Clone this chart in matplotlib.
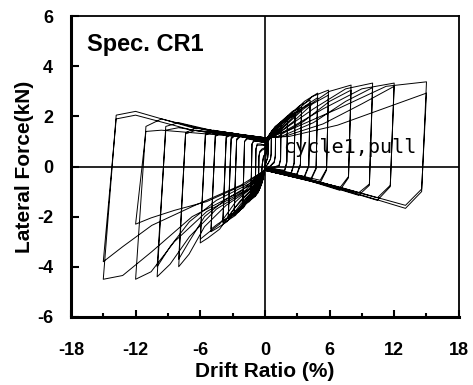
import numpy as np
import matplotlib
matplotlib.use("Agg")
import matplotlib.pyplot as plt
from matplotlib.ticker import MultipleLocator

# drift amplitude of each cycle (two cycles per level), %
drift_pos = [0.3, 0.3, 0.6, 0.6, 1.0, 1.0, 1.5, 1.5, 2.1, 2.1, 2.8, 2.8, 3.4, 3.4,
             4.2, 4.2, 4.9, 4.9, 5.9, 5.9, 8.0, 8.0, 10.0, 10.0, 12.0, 12.0, 15.0, 15.0]
drift_neg = [0.3, 0.3, 0.6, 0.6, 0.9, 0.9, 1.3, 1.3, 2.05, 2.05, 2.85, 2.85, 3.4, 3.4,
             3.9, 3.9, 5.0, 5.0, 6.0, 6.0, 8.0, 8.0, 10.0, 10.0, 12.0, 12.0, 15.0, 15.0]

# pull side: loading at 0.15, 0.45, 0.75 of amplitude, then peak
load_1 = [0.2, 0.45, 0.8, 0.75, 1.0, 0.95, 1.15, 1.1, 1.2, 1.15, 1.25, 1.2, 1.25, 1.2,
          1.3, 1.2, 1.3, 1.2, 1.3, 1.2, 1.35, 1.2, 1.4, 1.2, 1.4, 1.2, 1.45, 1.2]
load_2 = [0.5, 0.6, 1.0, 0.95, 1.3, 1.25, 1.45, 1.4, 1.6, 1.55, 1.7, 1.6, 1.8, 1.7,
          1.9, 1.75, 2.0, 1.8, 2.1, 1.8, 2.3, 1.8, 2.3, 1.75, 2.3, 1.7, 2.3, 1.65]
load_3 = [0.8, 0.8, 1.15, 1.12, 1.45, 1.4, 1.62, 1.58, 1.8, 1.75, 2.0, 1.9, 2.2, 2.1,
          2.4, 2.25, 2.6, 2.4, 2.8, 2.5, 3.0, 2.6, 3.1, 2.6, 3.1, 2.5, 3.2, 2.35]
peak_pos = [0.95, 0.9, 1.25, 1.2, 1.52, 1.48, 1.72, 1.68, 1.93, 1.85, 2.13, 2.05, 2.37, 2.25,
            2.65, 2.5, 2.93, 2.75, 3.05, 2.85, 3.25, 3.05, 3.33, 3.15, 3.33, 3.2, 3.38, 2.93]
# unloading from pull peak: drop, hook, return, zero crossing
drop_pos = [0.5, 0.5, 0.5, 0.5, 0.4, 0.45, 0.25, 0.3, 0.15, 0.2, 0.1, 0.15, 0.05, 0.1,
            0.0, 0.05, -0.1, -0.05, -0.15, -0.1, -0.45, -0.4, -0.75, -0.7, -0.8, -0.75, -1.0, -0.9]
hook_pos = [0.35, 0.35, 0.3, 0.3, 0.15, 0.2, 0.0, 0.05, -0.2, -0.15, -0.3, -0.25, -0.35, -0.3,
            -0.45, -0.4, -0.55, -0.5, -0.65, -0.55, -0.95, -0.85, -1.15, -1.05, -1.35, -1.25, -1.67, -1.55]
ret_pos = [0.2, 0.2, 0.1, 0.1, 0.0, 0.0, -0.05, -0.05, -0.1, -0.1, -0.15, -0.15, -0.2, -0.2,
           -0.25, -0.25, -0.3, -0.3, -0.35, -0.3, -0.5, -0.45, -0.6, -0.55, -0.7, -0.65, -0.85, -0.8]
cross_low = [0.0, 0.0, -0.05, -0.05, -0.1, -0.1, -0.1, -0.1, -0.1, -0.1, -0.1, -0.1, -0.1, -0.1,
             -0.1, -0.1, -0.1, -0.1, -0.12, -0.12, -0.12, -0.12, -0.15, -0.15, -0.15, -0.15, -0.15, -0.15]

# push side: loading at 0.15, 0.45, 0.7, 0.88 of amplitude, then peak
neg_1 = [-0.1, -0.15, -0.3, -0.3, -0.45, -0.4, -0.55, -0.5, -0.65, -0.6, -0.7, -0.65, -0.75, -0.7,
         -0.75, -0.7, -0.8, -0.7, -0.8, -0.7, -0.85, -0.7, -0.9, -0.7, -0.95, -0.7, -1.0, -0.75]
neg_2 = [-0.3, -0.35, -0.6, -0.55, -0.8, -0.75, -0.95, -0.9, -1.1, -1.05, -1.2, -1.15, -1.3, -1.25,
         -1.4, -1.3, -1.5, -1.35, -1.6, -1.4, -1.55, -1.3, -1.7, -1.35, -1.8, -1.4, -2.0, -1.6]
neg_3 = [-0.5, -0.5, -0.85, -0.8, -1.05, -1.0, -1.2, -1.15, -1.4, -1.35, -1.65, -1.6, -1.8, -1.7,
         -1.95, -1.85, -2.2, -2.05, -2.5, -2.3, -2.4, -2.0, -2.8, -2.2, -3.0, -1.75, -3.4, -2.35]
neg_4 = [-0.62, -0.58, -0.93, -0.88, -1.13, -1.08, -1.28, -1.24, -1.5, -1.45, -1.8, -1.72, -1.97, -1.87,
         -2.15, -2.05, -2.45, -2.3, -2.85, -2.65, -3.5, -3.0, -3.9, -3.2, -4.2, -2.05, -4.35, -3.2]
peak_neg = [-0.7, -0.65, -1.0, -0.95, -1.2, -1.15, -1.33, -1.3, -1.6, -1.55, -1.93, -1.85, -2.1, -2.0,
            -2.26, -2.2, -2.6, -2.5, -3.05, -2.9, -4.0, -3.7, -4.4, -4.0, -4.5, -2.3, -4.5, -3.8]
# unloading from push peak: rise, top, return, zero crossing
rise_neg = [-0.1, -0.1, 0.4, 0.4, 0.7, 0.7, 0.9, 0.9, 1.0, 1.0, 1.1, 1.05, 1.15, 1.1,
            1.2, 1.15, 1.25, 1.2, 1.3, 1.25, 1.35, 1.3, 1.6, 1.45, 1.6, 1.4, 2.05, 1.9]
top_neg = [0.1, 0.1, 0.6, 0.55, 0.9, 0.85, 1.05, 1.0, 1.15, 1.1, 1.25, 1.2, 1.3, 1.25,
           1.35, 1.3, 1.4, 1.35, 1.45, 1.4, 1.55, 1.45, 1.75, 1.55, 1.9, 1.45, 2.2, 2.05]
mid_neg = [0.35, 0.4, 0.7, 0.65, 0.9, 0.85, 1.0, 1.0, 1.1, 1.05, 1.15, 1.1, 1.2, 1.15,
           1.2, 1.2, 1.25, 1.2, 1.3, 1.25, 1.35, 1.3, 1.4, 1.3, 1.45, 1.3, 1.55, 1.45]
cross_high = [0.5, 0.5, 0.75, 0.7, 0.85, 0.85, 0.95, 0.95, 1.0, 1.0, 1.05, 1.05, 1.05, 1.05,
              1.1, 1.1, 1.1, 1.1, 1.1, 1.1, 1.1, 1.1, 1.15, 1.1, 1.15, 1.1, 1.15, 1.1]

# build the continuous record
xs, ys = [0.0], [0.0]
for i in range(len(drift_pos)):
    a = drift_pos[i]
    b = drift_neg[i]
    xs += [0.15 * a, 0.45 * a, 0.75 * a, a, 0.97 * a, 0.87 * a, 0.45 * a, 0.0]
    ys += [load_1[i], load_2[i], load_3[i], peak_pos[i], drop_pos[i], hook_pos[i],
           ret_pos[i], cross_low[i]]
    xs += [-0.15 * b, -0.45 * b, -0.7 * b, -0.88 * b, -b, -0.92 * b, -0.8 * b, -0.45 * b, 0.0]
    ys += [neg_1[i], neg_2[i], neg_3[i], neg_4[i], peak_neg[i], rise_neg[i], top_neg[i],
           mid_neg[i], cross_high[i]]

plt.rcParams['font.family'] = ['Liberation Sans', 'DejaVu Sans']
plt.rcParams['axes.unicode_minus'] = False

fig = plt.figure(figsize=(4.73, 3.85), dpi=100)
ax = fig.add_axes([0.150, 0.177, 0.820, 0.781])

ax.plot(xs, ys, color='black', linewidth=0.7)
ax.axhline(0, color='black', linewidth=1.2)
ax.axvline(0, color='black', linewidth=1.2)

ax.set_xlim(-18, 18)
ax.set_ylim(-6, 6)
ax.xaxis.set_major_locator(MultipleLocator(6))
ax.xaxis.set_minor_locator(MultipleLocator(3))
ax.yaxis.set_major_locator(MultipleLocator(2))
ax.tick_params(axis='x', which='major', direction='in', length=5, width=1.5, pad=18,
               labelsize=13)
ax.tick_params(axis='x', which='minor', direction='in', length=3, width=1.5)
ax.tick_params(axis='y', which='major', direction='in', length=6, width=1.5, pad=13,
               labelsize=13)
for lab in ax.get_xticklabels() + ax.get_yticklabels():
    lab.set_fontweight('bold')

ax.spines['left'].set_linewidth(2.2)
ax.spines['bottom'].set_linewidth(2.2)
ax.spines['top'].set_linewidth(1.3)
ax.spines['right'].set_linewidth(1.3)

ax.set_xlabel('Drift Ratio (%)', fontsize=15, fontweight='bold', labelpad=2)
ax.set_ylabel('Lateral Force(kN)', fontsize=15, fontweight='bold', labelpad=2)

ax.text(0.041, 0.885, 'Spec. CR1', transform=ax.transAxes, fontsize=17,
        fontweight='bold', va='baseline')
ax.text(1.67, 0.54, 'cycle1,pull', fontsize=14.5, family='DejaVu Sans Mono',
        va='baseline')

fig.savefig('out.png', dpi=100)
